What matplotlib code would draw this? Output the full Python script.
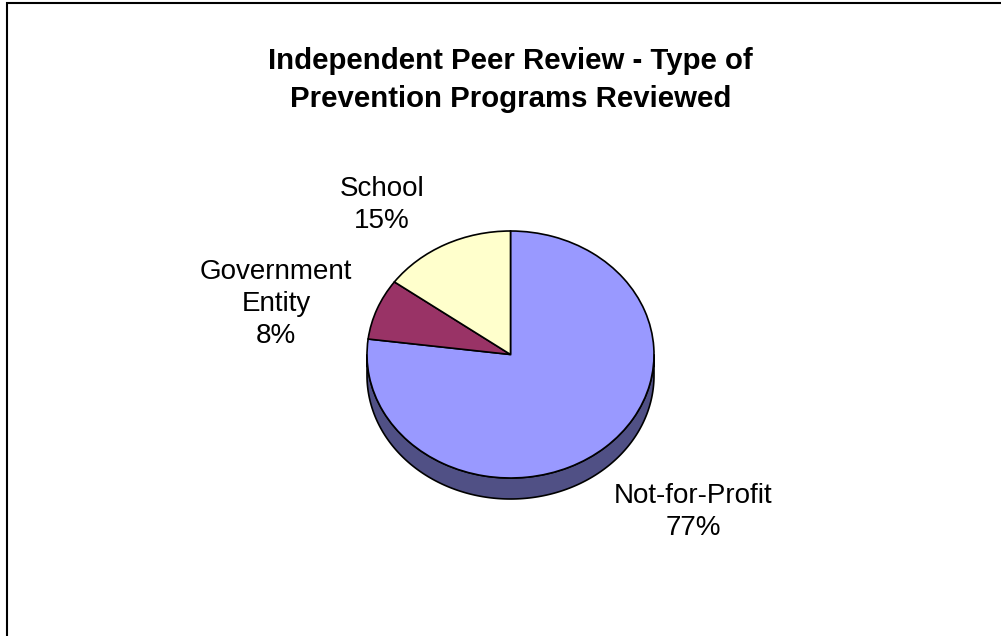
import matplotlib

matplotlib.use("Agg")
import matplotlib.pyplot as plt
import numpy as np
from matplotlib.colors import to_rgb
from matplotlib.patches import Polygon, Rectangle
from matplotlib.transforms import Affine2D

TITLE = "Independent Peer Review - Type of\nPrevention Programs Reviewed"
categories = ["Not-for-Profit", "Government\nEntity", "School"]
shares = [77, 8, 15]
colors = ["#9999FF", "#993366", "#FFFFCC"]

# layout, in pixels (y measured upward from the bottom)
W, H = 1001, 636
CX, CY = 510.5, H - 354.5
RX, RY = 143.5, 123.5
DEPTH = 21
label_pos = [(693, H - 512), (276, H - 304), (382, H - 205)]
FONT = ["Liberation Sans", "DejaVu Sans"]

plt.rcParams["font.family"] = FONT

fig = plt.figure(figsize=(W / 100, H / 100), dpi=100)
ax = fig.add_axes([0, 0, 1, 1])

wedges, _ = ax.pie(
    shares,
    colors=colors,
    startangle=90,
    counterclock=False,
    radius=RX,
    center=(CX, CY),
    wedgeprops=dict(edgecolor="black", linewidth=1.2),
)

# squash the flat pie into the tilted ellipse
squash = Affine2D().translate(-CX, -CY).scale(1, RY / RX).translate(CX, CY)
for w in wedges:
    w.set_transform(squash + ax.transData)
    w.set_zorder(3)

# side wall for whatever part of each slice faces the viewer
for w, c in zip(wedges, colors):
    t1, t2 = w.theta1, w.theta2
    for k in (-1, 0, 1):
        lo, hi = max(t1, 180 + 360 * k), min(t2, 360 + 360 * k)
        if hi <= lo:
            continue
        a = np.radians(np.linspace(lo, hi, 200))
        xs = CX + RX * np.cos(a)
        ys = CY + RY * np.sin(a)
        pts = np.vstack([
            np.column_stack([xs, ys]),
            np.column_stack([xs[::-1], ys[::-1] - DEPTH]),
        ])
        dark = tuple(v * 0.52 for v in to_rgb(c))
        ax.add_patch(Polygon(pts, closed=True, facecolor=dark,
                             edgecolor="black", linewidth=1.2, zorder=2))

for name, pct, (x, y) in zip(categories, shares, label_pos):
    ax.text(x, y, f"{name}\n{pct}%", ha="center", va="center",
            fontsize=20, linespacing=1.32, color="black")

ax.text(CX, H - 80, TITLE, ha="center", va="center", fontsize=21.2,
        fontweight="bold", linespacing=1.42)

# chart area border (runs off the right and bottom edges)
ax.add_patch(Rectangle((7, -10), W, H - 3 + 10, facecolor="none",
                       edgecolor="black", linewidth=1.5, zorder=5))

ax.set_xlim(0, W)
ax.set_ylim(0, H)
ax.set_aspect("auto")
ax.axis("off")

fig.savefig("out.png", dpi=100)
